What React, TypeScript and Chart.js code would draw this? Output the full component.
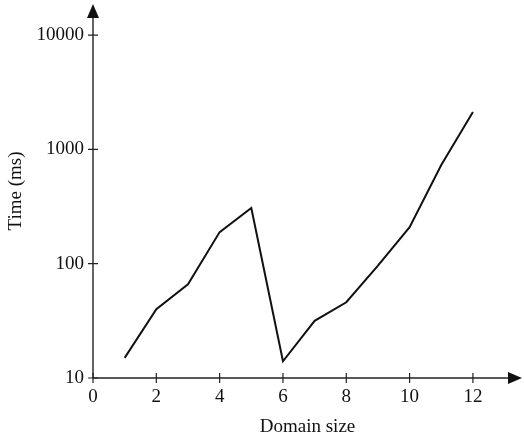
import React, { useEffect, useRef } from "react";
import { Chart, registerables } from "chart.js";

Chart.register(...registerables);

const domainSizes = [1, 2, 3, 4, 5, 6, 7, 8, 9, 10, 11, 12];
const timesMs = [15, 40, 66, 189, 307, 14, 31.6, 46, 96, 209, 731, 2120];
const xTickValues = [0, 2, 4, 6, 8, 10, 12];
const yTickValues = [10, 100, 1000, 10000];

const FONT = "'Liberation Serif', 'DejaVu Serif', serif";

const axesPlugin = {
  id: "arrowAxes",
  afterDraw(chart: any) {
    const ctx = chart.ctx;
    const { left, right, top, bottom } = chart.chartArea;
    const xs = chart.scales.x;
    const ys = chart.scales.y;
    ctx.save();
    ctx.strokeStyle = "#222";
    ctx.fillStyle = "#111";
    ctx.lineWidth = 1.4;
    ctx.beginPath();
    ctx.moveTo(left, bottom);
    ctx.lineTo(left, top + 8);
    ctx.moveTo(left, bottom);
    ctx.lineTo(right - 8, bottom);
    ctx.stroke();
    ctx.lineWidth = 1.2;
    ctx.beginPath();
    for (const v of xTickValues) {
      const px = xs.getPixelForValue(v);
      ctx.moveTo(px, bottom - 5);
      ctx.lineTo(px, bottom + 5);
    }
    for (const v of yTickValues) {
      const py = ys.getPixelForValue(v);
      ctx.moveTo(left - 5, py);
      ctx.lineTo(left + 5, py);
    }
    ctx.stroke();
    ctx.beginPath();
    ctx.moveTo(left, top);
    ctx.lineTo(left - 6, top + 14);
    ctx.lineTo(left + 6, top + 14);
    ctx.closePath();
    ctx.fill();
    ctx.beginPath();
    ctx.moveTo(right, bottom);
    ctx.lineTo(right - 14, bottom - 6);
    ctx.lineTo(right - 14, bottom + 6);
    ctx.closePath();
    ctx.fill();
    ctx.restore();
  },
};

export default function App() {
  const ref = useRef<HTMLCanvasElement>(null);
  useEffect(() => {
    if (!ref.current) return;
    const chart = new Chart(ref.current, {
      type: "line",
      data: {
        datasets: [
          {
            data: domainSizes.map((x, i) => ({ x, y: timesMs[i] })),
            borderColor: "#111",
            borderWidth: 2,
            pointRadius: 0,
            tension: 0,
            fill: false,
          },
        ],
      },
      options: {
        responsive: false,
        animation: false,
        layout: { padding: { top: 4, right: 2, left: 0, bottom: 0 } },
        plugins: { legend: { display: false }, tooltip: { enabled: false } },
        scales: {
          x: {
            type: "linear",
            min: 0,
            max: 13.55,
            border: { display: false },
            grid: { display: false, drawTicks: false },
            afterBuildTicks: (s: any) => {
              s.ticks = xTickValues.map((v) => ({ value: v }));
            },
            afterFit: (s: any) => {
              s.height = 60;
              s.paddingLeft = 0;
              s.paddingRight = 0;
            },
            ticks: {
              color: "#111",
              font: { family: FONT, size: 19 },
              padding: 8,
              maxRotation: 0,
              callback: (v: any) => String(v),
            },
            title: {
              display: true,
              text: "Domain size",
              color: "#111",
              font: { family: FONT, size: 19 },
              padding: { top: 0, bottom: 0 },
            },
          },
          y: {
            type: "logarithmic",
            min: 10,
            max: 18700,
            border: { display: false },
            grid: { display: false, drawTicks: false },
            afterBuildTicks: (s: any) => {
              s.ticks = yTickValues.map((v) => ({ value: v }));
            },
            afterFit: (s: any) => {
              s.width = 93;
              s.paddingTop = 0;
              s.paddingBottom = 0;
            },
            ticks: {
              color: "#111",
              font: { family: FONT, size: 19 },
              padding: 9,
              callback: (v: any) => String(v),
            },
            title: {
              display: true,
              text: "Time (ms)",
              color: "#111",
              font: { family: FONT, size: 19 },
              padding: { top: 5, bottom: 0 },
            },
          },
        },
      },
      plugins: [axesPlugin],
    });
    return () => chart.destroy();
  }, []);
  return (
    <canvas
      ref={ref}
      width={524}
      height={438}
      style={{ position: "fixed", left: 0, top: 0, width: 524, height: 438 }}
    />
  );
}
